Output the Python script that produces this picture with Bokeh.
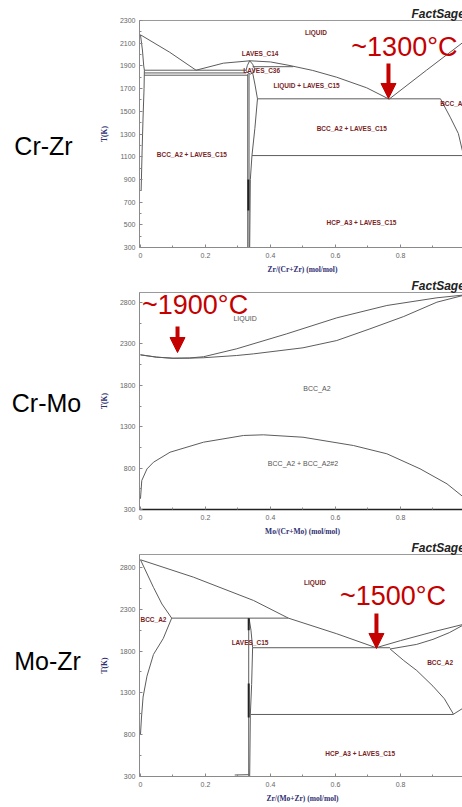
from bokeh.plotting import figure
from bokeh.models import Range1d, FixedTicker, Label, Arrow, NormalHead
from bokeh.layouts import column, row
from bokeh.embed import file_html
from bokeh.resources import INLINE
from bokeh.core.properties import value

# ---------------- shared axis data ----------------
x_tick_vals = [0, 0.2, 0.4, 0.6, 0.8]
x_tick_labels = ["0", "0.2", "0.4", "0.6", "0.8"]
x_minor_vals = [0.1, 0.3, 0.5, 0.7, 0.9]

crzr_t_ticks = [300, 500, 700, 900, 1100, 1300, 1500, 1700, 1900, 2100, 2300]
crzr_t_minor = [400, 600, 800, 1000, 1200, 1400, 1600, 1800, 2000, 2200]
big_t_ticks = [300, 800, 1300, 1800, 2300, 2800]
big_t_minor = [550, 1050, 1550, 2050, 2550]

# ---------------- Cr-Zr boundaries (x = Zr fraction, T in K) ----------------
crzr_liq_cr_x = [0.0, 0.09, 0.171]
crzr_liq_cr_t = [2174, 2020, 1862]
crzr_liq_mid_x = [0.171, 0.255, 0.337, 0.40, 0.46, 0.53, 0.604, 0.696, 0.765]
crzr_liq_mid_t = [1862, 1924, 1945, 1935, 1903, 1860, 1800, 1707, 1607]
crzr_liq_zr_x = [0.765, 0.88, 1.0]
crzr_liq_zr_t = [1607, 1862, 2124]
crzr_c14_x = [0.325, 0.329, 0.336, 0.345, 0.351, 0.347, 0.338, 0.330, 0.325]
crzr_c14_t = [1862, 1905, 1945, 1915, 1875, 1840, 1828, 1838, 1862]
crzr_c36_top_x = [0.345, 0.47]
crzr_c36_top_t = [1893, 1893]
crzr_eut1_x = [0.012, 0.325]
crzr_eut1_t = [1862, 1862]
crzr_c36a_x = [0.012, 0.325]
crzr_c36a_t = [1838, 1838]
crzr_c36b_x = [0.012, 0.330]
crzr_c36b_t = [1818, 1818]
crzr_cr_solvus_x = [0.0, 0.006, 0.010, 0.012, 0.011, 0.008, 0.005, 0.002]
crzr_cr_solvus_t = [2174, 2040, 1900, 1862, 1700, 1450, 1150, 800]
crzr_c15_left_x = [0.330, 0.330]
crzr_c15_left_t = [1828, 300]
crzr_c15_left2_x = [0.334, 0.334]
crzr_c15_left2_t = [1828, 300]
crzr_c15_right_x = [0.345, 0.352, 0.360, 0.352, 0.343, 0.338, 0.336]
crzr_c15_right_t = [1840, 1740, 1610, 1350, 1110, 900, 300]
crzr_c15_dark_x = [0.332, 0.332]
crzr_c15_dark_t = [900, 626]
crzr_eut2_x = [0.360, 0.923]
crzr_eut2_t = [1610, 1610]
crzr_zr_solvus_x = [0.923, 0.953, 0.978, 0.994]
crzr_zr_solvus_t = [1610, 1448, 1304, 1110]
crzr_eutectoid_x = [0.343, 0.994]
crzr_eutectoid_t = [1110, 1110]
crzr_hcp_x = [0.994, 1.0]
crzr_hcp_t = [1110, 1136]

crzr_lab_x = [0.54, 0.368, 0.373, 0.511, 0.65, 0.158, 0.68]
crzr_lab_t = [2194, 2007, 1860, 1727, 1348, 1120, 523]
crzr_lab_text = ["LIQUID", "LAVES_C14", "LAVES_C36", "LIQUID + LAVES_C15",
                 "BCC_A2 + LAVES_C15", "BCC_A2 + LAVES_C15", "HCP_A3 + LAVES_C15"]
crzr_lab_left_x = [0.922]
crzr_lab_left_t = [1569]
crzr_lab_left_text = ["BCC_A2"]

# ---------------- Cr-Mo boundaries (x = Mo fraction) ----------------
crmo_liq_x = [0.0, 0.05, 0.10, 0.15, 0.194, 0.296, 0.45, 0.604, 0.758, 0.912, 1.0]
crmo_liq_t = [2168, 2140, 2127, 2130, 2145, 2241, 2422, 2615, 2764, 2857, 2893]
crmo_sol_x = [0.0, 0.05, 0.10, 0.15, 0.194, 0.296, 0.348, 0.50, 0.604, 0.706, 0.81, 0.912, 1.0]
crmo_sol_t = [2168, 2140, 2127, 2128, 2133, 2160, 2180, 2253, 2341, 2482, 2631, 2804, 2893]
crmo_gap_x = [0.0, 0.004, 0.02, 0.04, 0.091, 0.194, 0.317, 0.378, 0.50, 0.655, 0.758, 0.86, 0.943, 0.994, 1.0]
crmo_gap_t = [430, 650, 790, 871, 992, 1113, 1194, 1202, 1173, 1073, 973, 792, 610, 449, 380]

crmo_lab_x = [0.322, 0.543, 0.50]
crmo_lab_t = [2603, 1758, 859]
crmo_lab_text = ["LIQUID", "BCC_A2", "BCC_A2 + BCC_A2#2"]

# ---------------- Mo-Zr boundaries (x = Zr fraction) ----------------
mozr_liq_mo_x = [0.0, 0.163, 0.348, 0.455, 0.604, 0.725]
mozr_liq_mo_t = [2892, 2684, 2405, 2194, 2007, 1840]
mozr_liq_zr_x = [0.725, 0.80, 0.90, 1.0]
mozr_liq_zr_t = [1840, 1925, 2030, 2126]
mozr_sol_zr_x = [0.768, 0.85, 0.90, 0.95, 1.0]
mozr_sol_zr_t = [1825, 1880, 1940, 2020, 2126]
mozr_zr_solvus_x = [0.768, 0.81, 0.85, 0.90, 0.935, 0.963]
mozr_zr_solvus_t = [1825, 1687, 1568, 1380, 1230, 1045]
mozr_eut_x = [0.345, 0.768]
mozr_eut_t = [1840, 1840]
mozr_eutectoid_x = [0.338, 0.963]
mozr_eutectoid_t = [1042, 1042]
mozr_hcp_x = [0.963, 1.0]
mozr_hcp_t = [1045, 1136]
mozr_mo_solvus_up_x = [0.0, 0.04, 0.066, 0.096]
mozr_mo_solvus_up_t = [2892, 2562, 2363, 2194]
mozr_mo_solvus_lo_x = [0.096, 0.07, 0.04, 0.02, 0.008, 0.003, 0.0]
mozr_mo_solvus_lo_t = [2194, 1950, 1760, 1500, 1250, 1000, 800]
mozr_perit_x = [0.096, 0.455]
mozr_perit_t = [2194, 2194]
mozr_c15_left_x = [0.333, 0.333]
mozr_c15_left_t = [2194, 300]
mozr_c15_right_x = [0.334, 0.340, 0.345, 0.342, 0.338, 0.336]
mozr_c15_right_t = [2194, 2050, 1840, 1400, 1042, 300]
mozr_dark1_x = [0.333, 0.333]
mozr_dark1_t = [2194, 2050]
mozr_dark2_x = [0.333, 0.333]
mozr_dark2_t = [1412, 1005]
mozr_low_x = [0.29, 0.333]
mozr_low_t = [318, 322]

mozr_lab_x = [0.537, 0.337, 0.922, 0.676]
mozr_lab_t = [2622, 1906, 1667, 572]
mozr_lab_text = ["LIQUID", "LAVES_C15", "BCC_A2", "HCP_A3 + LAVES_C15"]
mozr_lab_left_x = [0.0]
mozr_lab_left_t = [2178]
mozr_lab_left_text = ["BCC_A2"]

# ---------------- annotations ----------------
notes_text = ["~1300°C", "~1900°C", "~1500°C"]
notes_text_x = [0.812, 0.168, 0.777]
notes_text_t = [2066, 2764, 2459]
arrow_x = [0.763, 0.114, 0.726]
arrow_t_from = [1921, 2510, 2250]
arrow_t_to = [1613, 2196, 1831]
system_names = ["Cr-Zr", "Cr-Mo", "Mo-Zr"]
system_name_px = [43, 46, 47]
system_name_py = [145, 402, 660]
x_labels = ["Zr/(Cr+Zr) (mol/mol)", "Mo/(Cr+Mo) (mol/mol)", "Zr/(Mo+Zr) (mol/mol)"]

# ---------------- styling ----------------
LINE = "#5c5c5c"
RED = "#c40000"
DARKRED = "#7a1f1f"
AXIS_BLUE = "#2e2e70"
LEFT_W = 96
AXIS_W = 40


def make_panel(frame_h, top, bottom, t_end, t_ticks, t_minor, xlabel, bottom_dark=False):
    p = figure(frame_width=326, frame_height=frame_h,
               x_range=Range1d(-0.003, 1.0), y_range=Range1d(300, t_end),
               output_backend="svg", toolbar_location=None,
               min_border_left=AXIS_W, min_border_right=0,
               min_border_top=top, min_border_bottom=bottom)
    p.outline_line_color = "#9a9a9a"
    p.xgrid.visible = False
    p.ygrid.visible = False
    p.background_fill_color = "white"
    p.border_fill_color = "white"

    p.title.text = "FactSage"
    p.title.align = "left"
    p.title.offset = 272
    p.title.standoff = 0
    p.title.text_font = "Liberation Sans"
    p.title.text_font_style = "bold italic"
    p.title.text_font_size = "12px"
    p.title.text_color = "#222222"

    xa = p.xaxis[0]
    xa.ticker = FixedTicker(ticks=x_tick_vals, minor_ticks=x_minor_vals)
    xa.major_label_overrides = dict(zip(x_tick_vals, x_tick_labels))
    ya = p.yaxis[0]
    ya.ticker = FixedTicker(ticks=t_ticks, minor_ticks=t_minor)
    for ax in (xa, ya):
        ax.major_tick_in = 3
        ax.major_tick_out = 0
        ax.minor_tick_in = 2
        ax.minor_tick_out = 0
        ax.major_tick_line_color = "#888888"
        ax.minor_tick_line_color = "#888888"
        ax.axis_line_color = "#8a8a8a"
        ax.major_label_text_font = "Liberation Sans"
        ax.major_label_text_font_size = "7px"
        ax.major_label_text_color = "#666666"
        ax.axis_label_text_font = "Liberation Serif"
        ax.axis_label_text_font_style = "bold"
        ax.axis_label_text_font_size = "7.5px"
        ax.axis_label_text_color = AXIS_BLUE
    xa.major_label_standoff = 5
    xa.axis_label = xlabel
    xa.axis_label_standoff = 4
    ya.major_label_standoff = 4
    ya.axis_label = "T(K)"
    ya.axis_label_standoff = 8
    if bottom_dark:
        xa.axis_line_color = "#222222"
        xa.axis_line_width = 1.5
    return p


def add_notes(p, i):
    p.add_layout(Label(x=notes_text_x[i], y=notes_text_t[i], text=notes_text[i],
                       text_font="Liberation Sans", text_font_size="27px", text_color=RED,
                       text_align="center", text_baseline="middle"))
    p.add_layout(Arrow(end=NormalHead(size=15, fill_color=RED, line_color=RED, line_width=1),
                       x_start=arrow_x[i], y_start=arrow_t_from[i],
                       x_end=arrow_x[i], y_end=arrow_t_to[i],
                       line_color=RED, line_width=4))


def add_labels(p, xs, ts, texts, color, bold, align="center", size="6.5px"):
    p.text(x=xs, y=ts, text=texts, text_font=value("Liberation Sans"),
           text_font_size=size, text_font_style="bold" if bold else "normal",
           text_color=color, text_align=align, text_baseline="middle")


# ---------------- left column with system names ----------------
left = figure(frame_width=LEFT_W, frame_height=807,
              x_range=Range1d(0, LEFT_W), y_range=Range1d(807, 0),
              x_axis_type=None, y_axis_type=None,
              output_backend="svg", toolbar_location=None,
              min_border_left=0, min_border_right=0, min_border_top=0, min_border_bottom=0)
left.outline_line_color = None
left.xgrid.visible = False
left.ygrid.visible = False
left.text(x=system_name_px, y=system_name_py, text=system_names,
          text_font=value("Liberation Sans"), text_font_size="25px", text_color="black",
          text_align="center", text_baseline="middle")

# ---------------- Panel 1: Cr-Zr ----------------
p1 = make_panel(227, 20, 29, 2300, crzr_t_ticks, crzr_t_minor, x_labels[0])
for xs, ts in [(crzr_liq_cr_x, crzr_liq_cr_t), (crzr_liq_mid_x, crzr_liq_mid_t),
               (crzr_liq_zr_x, crzr_liq_zr_t), (crzr_c14_x, crzr_c14_t),
               (crzr_c36_top_x, crzr_c36_top_t), (crzr_eut1_x, crzr_eut1_t),
               (crzr_c36a_x, crzr_c36a_t), (crzr_c36b_x, crzr_c36b_t),
               (crzr_cr_solvus_x, crzr_cr_solvus_t), (crzr_c15_left_x, crzr_c15_left_t),
               (crzr_c15_left2_x, crzr_c15_left2_t), (crzr_c15_right_x, crzr_c15_right_t),
               (crzr_eut2_x, crzr_eut2_t), (crzr_zr_solvus_x, crzr_zr_solvus_t),
               (crzr_eutectoid_x, crzr_eutectoid_t), (crzr_hcp_x, crzr_hcp_t)]:
    p1.line(xs, ts, line_color=LINE, line_width=1)
p1.line(crzr_c15_dark_x, crzr_c15_dark_t, line_color="#222222", line_width=2)
add_labels(p1, crzr_lab_x, crzr_lab_t, crzr_lab_text, DARKRED, True)
add_labels(p1, crzr_lab_left_x, crzr_lab_left_t, crzr_lab_left_text, DARKRED, True, align="left")
add_notes(p1, 0)

# ---------------- Panel 2: Cr-Mo ----------------
p2 = make_panel(217, 16, 29, 2921, big_t_ticks, big_t_minor, x_labels[1], bottom_dark=True)
for xs, ts in [(crmo_liq_x, crmo_liq_t), (crmo_sol_x, crmo_sol_t), (crmo_gap_x, crmo_gap_t)]:
    p2.line(xs, ts, line_color=LINE, line_width=1)
add_labels(p2, crmo_lab_x, crmo_lab_t, crmo_lab_text, "#555555", False, size="7px")
add_notes(p2, 1)

# ---------------- Panel 3: Mo-Zr ----------------
p3 = make_panel(222, 16, 31, 2955, big_t_ticks, big_t_minor, x_labels[2])
for xs, ts in [(mozr_liq_mo_x, mozr_liq_mo_t), (mozr_liq_zr_x, mozr_liq_zr_t),
               (mozr_sol_zr_x, mozr_sol_zr_t), (mozr_zr_solvus_x, mozr_zr_solvus_t),
               (mozr_eut_x, mozr_eut_t), (mozr_eutectoid_x, mozr_eutectoid_t),
               (mozr_hcp_x, mozr_hcp_t), (mozr_mo_solvus_up_x, mozr_mo_solvus_up_t),
               (mozr_mo_solvus_lo_x, mozr_mo_solvus_lo_t), (mozr_perit_x, mozr_perit_t),
               (mozr_c15_left_x, mozr_c15_left_t), (mozr_c15_right_x, mozr_c15_right_t),
               (mozr_low_x, mozr_low_t)]:
    p3.line(xs, ts, line_color=LINE, line_width=1)
for xs, ts in [(mozr_dark1_x, mozr_dark1_t), (mozr_dark2_x, mozr_dark2_t)]:
    p3.line(xs, ts, line_color="#222222", line_width=2)
add_labels(p3, mozr_lab_x, mozr_lab_t, mozr_lab_text, DARKRED, True)
add_labels(p3, mozr_lab_left_x, mozr_lab_left_t, mozr_lab_left_text, DARKRED, True, align="left")
add_notes(p3, 2)

layout = row(left, column(p1, p2, p3, spacing=0), spacing=0)
open("out.html", "w").write(file_html(layout, INLINE))
